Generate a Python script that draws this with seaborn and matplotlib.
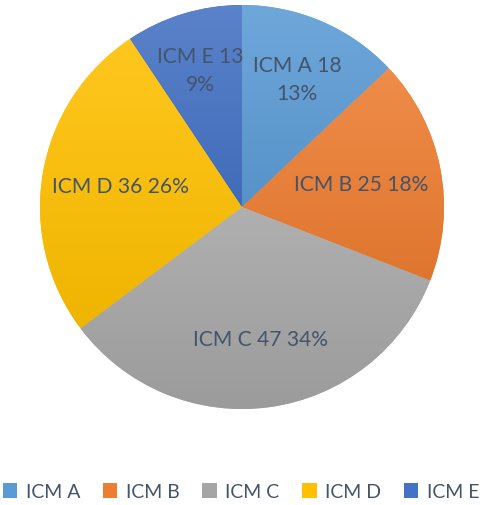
import numpy as np
import matplotlib
matplotlib.use("Agg")
import matplotlib.pyplot as plt
import matplotlib.colors as mcolors
from matplotlib.patches import Patch
import seaborn as sns

categories = ["ICM A", "ICM B", "ICM C", "ICM D", "ICM E"]
values = [18, 25, 47, 36, 13]
colors = ["#5B9BD5", "#ED7D31", "#A5A5A5", "#FFC000", "#4472C4"]
label_dist = [0.69, 0.60, 0.66, 0.61, 0.71]
wrap = [True, False, False, False, True]

sns.set_theme(style="white")
plt.rcParams["font.family"] = ["Lato", "DejaVu Sans"]
text_color = "#44546A"

fig = plt.figure(figsize=(4.82, 5.06), dpi=100)
ax = fig.add_axes([40 / 482, 96 / 506, 404 / 482, 404 / 506])

wedges, _ = ax.pie(values, colors=colors, startangle=90, counterclock=False,
                   radius=1.0, wedgeprops=dict(linewidth=0))
ax.set_xlim(-1, 1)
ax.set_ylim(-1, 1)
ax.set_aspect("equal")
ax.axis("off")

total = sum(values)


def lighten(c, f):
    c = np.array(mcolors.to_rgb(c))
    return c + (1 - c) * f


def darken(c, f):
    return np.array(mcolors.to_rgb(c)) * (1 - f)


for w, col in zip(wedges, colors):
    ext = w.get_path().get_extents()
    top = lighten(col, 0.12)
    bot = darken(col, 0.06)
    t = np.linspace(0, 1, 256)[:, None]
    grad = top[None, :] * (1 - t) + bot[None, :] * t
    grad = grad[:, None, :]
    im = ax.imshow(grad, extent=[ext.x0, ext.x1, ext.y0, ext.y1], origin="upper",
                   aspect="auto", zorder=w.get_zorder() + 0.1, interpolation="bilinear")
    im.set_clip_path(w)
ax.set_xlim(-1, 1)
ax.set_ylim(-1, 1)

for w, cat, v, d, wr in zip(wedges, categories, values, label_dist, wrap):
    ang = np.deg2rad((w.theta1 + w.theta2) / 2)
    pct = f"{v / total * 100:.0f}%"
    sep = "\n" if wr else " "
    txt = f"{cat} {v}{sep}{pct}"
    ax.text(d * np.cos(ang), d * np.sin(ang), txt, ha="center", va="center",
            fontsize=15.1, color=text_color, zorder=10, linespacing=1.5)

handles = [Patch(facecolor=c, edgecolor="none") for c in colors]
fig.legend(handles, categories, loc="center", bbox_to_anchor=(0.5, 0.026), ncol=5,
           frameon=False, fontsize=14, labelcolor=text_color, handlelength=0.75,
           handleheight=0.75, handletextpad=0.45, columnspacing=1.15)

fig.savefig("out.png", dpi=100)
